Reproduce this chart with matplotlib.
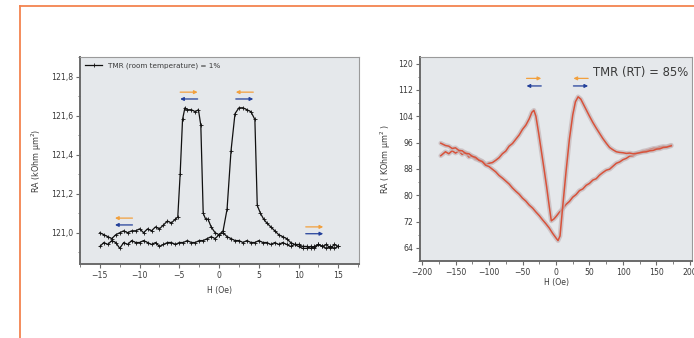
import numpy as np
import matplotlib.pyplot as plt
from matplotlib.lines import Line2D
from matplotlib.ticker import MultipleLocator, FuncFormatter

# ---- left panel: TMR at room temperature (~1%) ----
h_up = [-15, -14.5, -14, -13.5, -13, -12.5, -12, -11.5, -11, -10.5, -10, -9.5, -9, -8.5,
        -8, -7.5, -7, -6.5, -6, -5.5, -5, -4.5, -4, -3.5, -3, -2.5, -2, -1.5, -1, -0.5,
        0, 0.5, 1, 1.5, 2, 2.5, 3, 3.5, 4, 4.5, 4.8, 5.2, 5.6, 6, 6.5, 7, 7.5, 8, 8.5,
        9, 9.5, 10, 10.5, 11, 11.5, 12, 12.5, 13, 13.5, 14, 14.5, 15]
ra_up = [120.93, 120.95, 120.94, 120.96, 120.95, 120.92, 120.95, 120.94, 120.96, 120.95,
         120.95, 120.96, 120.95, 120.94, 120.95, 120.93, 120.94, 120.95, 120.95, 120.94,
         120.95, 120.95, 120.96, 120.95, 120.95, 120.96, 120.96, 120.97, 120.98, 120.97,
         120.99, 121.01, 121.12, 121.42, 121.61, 121.64, 121.64, 121.63, 121.62, 121.58,
         121.14, 121.10, 121.07, 121.05, 121.03, 121.01, 120.99, 120.98, 120.97, 120.95,
         120.94, 120.94, 120.93, 120.93, 120.92, 120.93, 120.94, 120.93, 120.94, 120.92,
         120.94, 120.93]

h_down = [-15, -14.5, -14, -13.5, -13, -12.5, -12, -11.5, -11, -10.5, -10, -9.5, -9, -8.5,
          -8, -7.5, -7, -6.5, -6, -5.5, -5.2, -4.9, -4.6, -4.3, -4, -3.5, -3, -2.6, -2.3,
          -2.0, -1.7, -1.4, -1, -0.5, 0, 0.5, 1, 1.5, 2, 2.5, 3, 3.5, 4, 4.5, 5, 5.5, 6,
          6.5, 7, 7.5, 8, 8.5, 9, 9.5, 10, 10.5, 11, 11.5, 12, 12.5, 13, 13.5, 14, 14.5, 15]
ra_down = [121.00, 120.99, 120.98, 120.97, 120.99, 121.00, 121.01, 121.00, 121.01, 121.01,
           121.02, 121.00, 121.02, 121.01, 121.03, 121.02, 121.04, 121.06, 121.05, 121.07,
           121.08, 121.30, 121.58, 121.64, 121.63, 121.63, 121.62, 121.63, 121.55, 121.10,
           121.07, 121.07, 121.03, 121.00, 120.99, 121.00, 120.98, 120.97, 120.96, 120.96,
           120.95, 120.96, 120.95, 120.95, 120.96, 120.95, 120.95, 120.94, 120.95, 120.94,
           120.95, 120.94, 120.93, 120.94, 120.93, 120.92, 120.92, 120.93, 120.92, 120.94,
           120.93, 120.92, 120.93, 120.92, 120.93]

# ---- right panel: TMR (RT) = 85% ----
h_b1 = [-172, -165, -160, -155, -150, -145, -140, -135, -130, -125, -120, -115, -110, -105,
        -100, -95, -90, -85, -80, -75, -70, -65, -60, -55, -50, -45, -40, -36, -33, -30,
        -26, -22, -18, -14, -10, -7, -3, 0, 5, 10, 15, 20, 25, 30, 35, 40, 45, 50, 55, 60,
        65, 70, 75, 80, 85, 90, 95, 100, 105, 110, 115, 120, 125, 130, 135, 140, 145, 150,
        155, 160, 165, 172]
ra_b1 = [92.0, 93.2, 92.6, 93.5, 92.8, 93.4, 92.4, 92.9, 91.6, 91.9, 91.0, 90.8, 90.3, 89.4,
         89.7, 89.9, 90.6, 91.4, 92.6, 93.4, 94.9, 95.7, 97.0, 98.3, 100.0, 101.3, 103.2,
         105.2, 105.8, 104.0, 99.0, 93.6, 88.2, 82.6, 76.5, 72.2, 72.8, 73.5, 74.8, 75.9,
         77.2, 78.1, 79.4, 80.2, 81.4, 81.9, 83.0, 83.6, 84.6, 85.0, 86.1, 86.9, 87.6, 87.9,
         88.8, 89.7, 90.1, 90.8, 91.2, 91.9, 92.0, 92.7, 93.0, 93.4, 93.6, 93.9, 94.2, 94.3,
         94.6, 94.8, 94.7, 95.2]

h_b2 = [-172, -165, -160, -155, -150, -145, -140, -135, -130, -125, -120, -115, -110, -105,
        -100, -95, -90, -85, -80, -75, -70, -65, -60, -55, -50, -45, -40, -35, -30, -25,
        -20, -15, -10, -5, 0, 3, 6, 10, 15, 20, 25, 29, 33, 37, 41, 45, 50, 55, 60, 65, 70,
        75, 80, 85, 90, 95, 100, 105, 110, 115, 120, 125, 130, 135, 140, 145, 150, 155, 160,
        165, 172]
ra_b2 = [95.8, 95.1, 94.9, 94.2, 94.4, 93.6, 93.5, 92.7, 92.6, 91.8, 91.5, 90.6, 90.2, 89.1,
         88.7, 87.9, 87.1, 86.0, 85.2, 84.3, 83.4, 82.2, 81.2, 80.3, 79.1, 78.2, 77.0, 76.1,
         74.9, 73.8, 72.5, 71.3, 70.0, 68.4, 67.0, 66.2, 67.6, 76.5, 87.2, 97.0, 104.4, 108.4,
         109.9, 109.2, 107.6, 106.0, 104.0, 102.1, 100.4, 98.8, 97.2, 95.8, 94.5, 93.8, 93.2,
         93.0, 92.9, 92.7, 92.8, 92.6, 92.7, 92.9, 93.1, 93.2, 93.5, 93.6, 94.0, 94.1, 94.5,
         94.6, 95.0]

# arrow pairs (field position, y of upper/orange arrow, y of lower/blue arrow, directions)
left_arrows_h = [-12, -3.8, 3.2, 12]
left_arrows_y = [(121.075, 121.04), (121.72, 121.685), (121.72, 121.685), (121.03, 120.995)]
left_arrows_dir = [(-1, -1), (1, -1), (-1, 1), (1, 1)]
right_arrows_h = [-33, 37]
right_arrows_y = [(115.5, 113.2), (115.5, 113.2)]
right_arrows_dir = [(1, -1), (-1, 1)]

orange = '#f2a03d'
blue = '#23409a'
red = '#d8523a'
face = '#e5e8eb'
txt = '#3a3a3a'

fig = plt.figure(figsize=(6.94, 3.38), dpi=100)
fig.patch.set_facecolor('white')

# orange frame on top and left
fig.add_artist(Line2D([20 / 694, 1], [1 - 6 / 338] * 2, color='#f3834f', lw=1.3))
fig.add_artist(Line2D([20 / 694] * 2, [0, 1 - 6 / 338], color='#f3834f', lw=1.3))

ax1 = fig.add_axes([80 / 694, 1 - 264 / 338, 279 / 694, 207 / 338])
ax2 = fig.add_axes([420 / 694, 1 - 261 / 338, 272 / 694, 204 / 338])


def style(ax):
    ax.set_facecolor(face)
    for s in ['left', 'bottom']:
        ax.spines[s].set_color('#6a6a6a')
        ax.spines[s].set_linewidth(1.4)
    for s in ['top', 'right']:
        ax.spines[s].set_color('#9a9a9a')
        ax.spines[s].set_linewidth(0.8)
    ax.tick_params(which='major', length=3, width=0.8, color='#6a6a6a',
                   labelsize=5.6, labelcolor=txt, pad=2)
    ax.tick_params(which='minor', length=1.8, width=0.6, color='#6a6a6a')


def draw_arrows(ax, hs, ys, dirs, length):
    for h, (yo, yb), (do, db) in zip(hs, ys, dirs):
        for y, d, c in [(yo, do, orange), (yb, db, blue)]:
            ax.annotate('', xy=(h + d * length / 2, y), xytext=(h - d * length / 2, y),
                        arrowprops=dict(arrowstyle='-|>', color=c, lw=0.9,
                                        mutation_scale=5, shrinkA=0, shrinkB=0))


# left panel
style(ax1)
ax1.plot(h_up, ra_up, color='#111111', lw=0.9, marker='+', ms=2.2, mew=0.6)
ax1.plot(h_down, ra_down, color='#111111', lw=0.9, marker='+', ms=2.2, mew=0.6,
         label='TMR (room temperature) = 1%')
ax1.set_xlim(-17.5, 17.6)
ax1.set_ylim(120.84, 121.9)
ax1.xaxis.set_major_locator(MultipleLocator(5))
ax1.xaxis.set_minor_locator(MultipleLocator(2.5))
ax1.yaxis.set_major_locator(MultipleLocator(0.2))
ax1.yaxis.set_minor_locator(MultipleLocator(0.1))
ax1.yaxis.set_major_formatter(FuncFormatter(lambda v, p: f'{v:.1f}'.replace('.', ',')))
ax1.set_xlabel('H (Oe)', fontsize=5.6, color=txt, labelpad=4)
ax1.set_ylabel('RA (kOhm µm$^2$)', fontsize=5.8, color=txt, labelpad=5)
ax1.legend(loc='upper left', frameon=False, fontsize=5.2, handlelength=2.4,
           borderaxespad=0.3, labelcolor=txt)
draw_arrows(ax1, left_arrows_h, left_arrows_y, left_arrows_dir, 2.2)

# right panel
style(ax2)
for h, r in [(h_b1, ra_b1), (h_b2, ra_b2)]:
    ax2.plot(h, r, color='#c4b6b8', lw=3.4, alpha=0.7, solid_capstyle='round')
    ax2.plot(h, r, color=red, lw=1.1)
ax2.set_xlim(-203, 203)
ax2.set_ylim(60, 122)
ax2.xaxis.set_major_locator(MultipleLocator(50))
ax2.xaxis.set_minor_locator(MultipleLocator(25))
ax2.yaxis.set_major_locator(MultipleLocator(8))
ax2.yaxis.set_minor_locator(MultipleLocator(4))
ax2.set_xlabel('H (Oe)', fontsize=5.6, color=txt, labelpad=1)
ax2.set_ylabel('RA ( KOhm µm$^2$ )', fontsize=5.8, color=txt, labelpad=4)
ax2.text(0.985, 0.955, 'TMR (RT) = 85%', transform=ax2.transAxes, ha='right', va='top',
         fontsize=8.4, color=txt)
draw_arrows(ax2, right_arrows_h, right_arrows_y, right_arrows_dir, 22)

fig.savefig('out.png', dpi=100)
